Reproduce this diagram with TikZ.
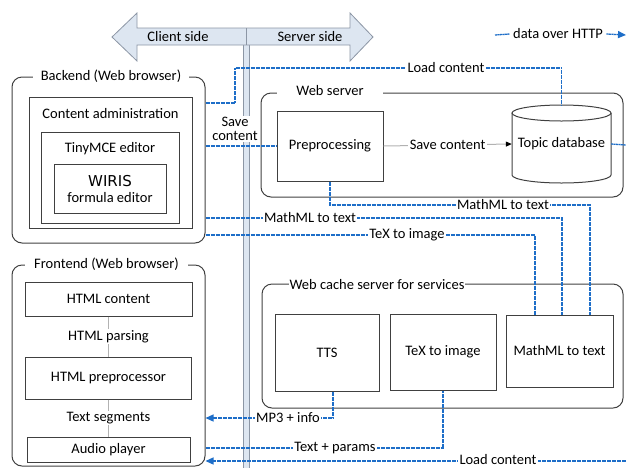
\documentclass[tikz,border=0pt]{standalone}
\usepackage{fontspec}
\setmainfont{Carlito}
\newfontfamily\wirisfont{DejaVu Sans}
\usetikzlibrary{arrows.meta}
\definecolor{httpblue}{RGB}{30,110,200}
\definecolor{boxgray}{RGB}{64,64,64}
\definecolor{sidefill}{RGB}{221,230,241}
\definecolor{sidedraw}{RGB}{140,150,165}
\tikzset{
  frame/.style={draw=boxgray, line width=1pt, rounded corners=10pt},
  box/.style={draw=boxgray, line width=1pt, align=center},
  frametitle/.style={fill=white, inner ysep=1pt},
  http/.style={draw=httpblue, line width=1.3pt, dash pattern=on 2pt off 0.5pt},
  httptip/.style={-{Triangle[length=8pt,width=7pt]}},
  flow/.style={draw=black!30, line width=1pt},
  lbl/.style={fill=white, inner xsep=1.5pt, inner ysep=1pt},
}
\begin{document}
\begin{tikzpicture}[x=1pt,y=-1pt,font=\fontsize{14.5}{16}\selectfont]
\useasboundingbox (0,0) rectangle (626,467);
% client / server split
\draw[sidedraw, fill=sidefill] (243,40) rectangle (249,470);
\draw[sidedraw, fill=sidefill, line width=0.8pt] (112,37) -- (137,13) -- (137,28) -- (350,28) -- (350,13) -- (373,37) -- (350,61) -- (350,45) -- (137,45) -- (137,61) -- cycle;
\draw[sidedraw] (246,28) -- (246,45);
\node (client) at (178,37) {Client side};
\node (server) at (310,37) {Server side};
\node (legend) at (558,34) {data over HTTP};
\draw[http] (495,35) -- (legend.west);
\draw[http,httptip] (legend.east) -- (626,35);

% backend
\node[frame, minimum width=193, minimum height=166] (backend) at (108.5,160) {};
\node[frametitle, inner xsep=8pt] (backendtitle) at (111,76) {Backend (Web browser)};
\node[box, minimum width=163, minimum height=131] (admin) at (110.5,162.5) {};
\node (admintitle) at (110.5,114) {Content administration};
\node[box, minimum width=138, minimum height=91] (tinymce) at (110,177.5) {};
\node (tinymcetitle) at (110,149) {TinyMCE editor};
\node[box, minimum width=112, minimum height=49] (wiris) at (110,188.5) {{\wirisfont\fontsize{15}{17}\selectfont WIRIS}\\formula editor};

% web server
\node[frame, minimum width=362, minimum height=104] (webserver) at (442,145) {};
\node[frametitle, inner xsep=19pt] (webservertitle) at (330,91) {Web server};
\node[box, minimum width=106, minimum height=70] (prep) at (330,146) {Preprocessing};
\node[minimum width=99, minimum height=78] (db) at (561.5,144) {Topic database};
\draw[boxgray, line width=1pt] (561.5,113) ellipse [x radius=49.5pt, y radius=8pt];
\draw[boxgray, line width=1pt] (512,113) -- (512,175) arc[start angle=180, end angle=360, x radius=49.5pt, y radius=8pt] -- (611,113);
\draw[flow, -{Triangle[length=6pt,width=5pt,color=black]}] (prep.east) -- node[lbl] (savelbl) {Save content} (db.west);

% frontend
\node[frame, minimum width=193, minimum height=201] (frontend) at (108.5,365.5) {};
\node[frametitle, inner xsep=9pt] (frontendtitle) at (106.5,264) {Frontend (Web browser)};
\node[box, minimum width=167, minimum height=34] (html) at (108.5,299) {HTML content};
\node[box, minimum width=166, minimum height=42] (htmlpre) at (108.5,378) {HTML preprocessor};
\node[box, minimum width=163, minimum height=25] (audio) at (108.5,449.5) {Audio player};
\draw[flow, line width=0.7pt] (html) -- node[lbl] (parselbl) {HTML parsing} (htmlpre);
\draw[flow, line width=0.7pt] (htmlpre) -- node[lbl] (seglbl) {Text segments} (audio);

% web cache server
\node[frame, minimum width=361, minimum height=124] (cache) at (442.5,346) {};
\node[frametitle, inner xsep=1pt] (cachetitle) at (377,285) {Web cache server for services};
\node[box, minimum width=104, minimum height=77] (tts) at (327,352.5) {TTS};
\node[box, minimum width=106, minimum height=76] (tex) at (443,352) {TeX to image};
\node[box, minimum width=107, minimum height=72] (mathml) at (559.5,351) {MathML to text};

% data over HTTP
\draw[http] (backend.east |- 0,103) -| (235,68) -| (db.north);
\node[lbl] (loadtop) at (446,68) {Load content};
\coordinate (dbout) at (626,145);
\draw[http] (db.east) -- (dbout);
\draw[http] (backend.east |- prep.west) -- (prep.west);
\node[lbl, align=center, font=\fontsize{14.5}{14}\selectfont] (savein) at (235,129) {Save\\content};
\coordinate (mlturn) at (590,205);
\draw[http] (prep.south) |- (mlturn) -- (mlturn |- mathml.north);
\node[lbl] (mlprep) at (503,205) {MathML to text};
\draw[http] (backend.east |- 0,218) -| ([xshift=2.5pt]mathml.north);
\node[lbl] (mlback) at (310,218) {MathML to text};
\draw[http] (backend.east |- 0,235) -| ([xshift=-24.5pt]mathml.north);
\node[lbl] (texback) at (407,235) {TeX to image};
\draw[http, httptip] ([xshift=6pt]tts.south) |- (frontend.east |- 0,418);
\node[lbl] (mp3) at (288,418) {MP3 + info};
\draw[http] (frontend.east |- 0,448) -| (tex.south);
\node[lbl] (params) at (335,448) {Text + params};
\coordinate (loadin) at (626,461);
\draw[http, httptip] (loadin) -- (frontend.east |- loadin);
\node[lbl, inner ysep=0pt] (loadbottom) at (498,460) {Load content};
\end{tikzpicture}
\end{document}
